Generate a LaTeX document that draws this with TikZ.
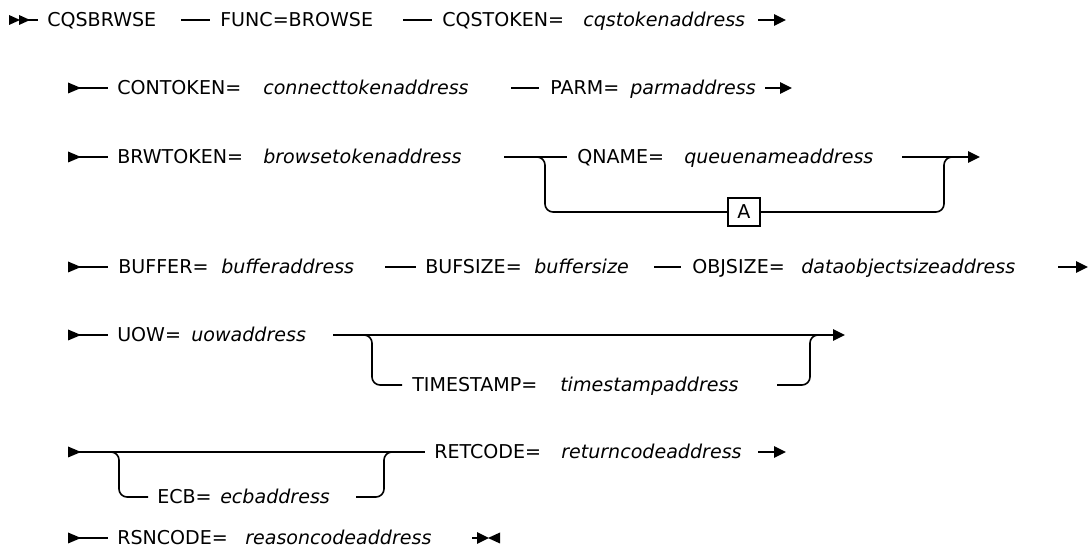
\documentclass[tikz,border=0pt]{standalone}
\usepackage{fontspec}
\setmainfont{DejaVu Sans}
\usetikzlibrary{arrows.meta}
\begin{document}
\begin{tikzpicture}[x=0.75pt,y=-0.75pt,
  kw/.style={anchor=base west,inner sep=0pt,font=\fontsize{14.3}{16}\selectfont},
  var/.style={anchor=base west,inner sep=0pt,font=\fontsize{14.3}{16}\selectfont\itshape},
  rail/.style={line width=1.2pt},
  branch/.style={line width=1.2pt,rounded corners=6pt},
  endarrow/.style={line width=1.2pt,-{Triangle[length=9pt,width=8.5pt]}},
  refbox/.style={draw,line width=1pt,minimum width=24pt,minimum height=21pt,inner sep=0pt,font=\fontsize{14.3}{16}\selectfont}
]
\useasboundingbox (0,0) rectangle (1089,548);
\newcommand\startmark[1]{\fill (#1) ++(0,-5.5) -- ++(13,5.5) -- ++(-13,5.5) -- cycle;}

% ---------- row 1 ----------
\fill (9,15) -- (20,20) -- (9,25) -- cycle;
\fill (19,15) -- (30,20) -- (19,25) -- cycle;
\coordinate (a1) at (19,20); \coordinate (a2) at (38,20);
\draw[rail] (a1) -- (a2);
\node[kw] (cqsbrwse) at (47,27) {CQSBRWSE};
\coordinate (b1) at (181,20); \coordinate (b2) at (210,20);
\draw[rail] (b1) -- (b2);
\node[kw] (func) at (220,27) {FUNC=BROWSE};
\coordinate (c1) at (403,20); \coordinate (c2) at (432,20);
\draw[rail] (c1) -- (c2);
\node[kw] (cqstoken) at (442,27) {CQSTOKEN=};
\node[var] (cqstokenv) at (583,27) {cqstokenaddress};
\coordinate (d1) at (758,20); \coordinate (d2) at (786,20);
\draw[endarrow] (d1) -- (d2);

% ---------- row 2 ----------
\coordinate (e1) at (68,88); \coordinate (e2) at (108,88);
\startmark{e1}
\draw[rail] (e1) -- (e2);
\node[kw] (contoken) at (117,95) {CONTOKEN=};
\node[var] (contokenv) at (263,95) {connecttokenaddress};
\coordinate (f1) at (511,88); \coordinate (f2) at (539,88);
\draw[rail] (f1) -- (f2);
\node[kw] (parm) at (550,95) {PARM=};
\node[var] (parmv) at (630,95) {parmaddress};
\coordinate (g1) at (765,88); \coordinate (g2) at (792,88);
\draw[endarrow] (g1) -- (g2);

% ---------- row 3 ----------
\coordinate (h1) at (68,157); \coordinate (h2) at (108,157);
\startmark{h1}
\draw[rail] (h1) -- (h2);
\node[kw] (brwtoken) at (117,164) {BRWTOKEN=};
\node[var] (brwtokenv) at (263,164) {browsetokenaddress};
\coordinate (i1) at (504,157); \coordinate (i2) at (567,157);
\draw[rail] (i1) -- (i2);
\node[kw] (qname) at (577,164) {QNAME=};
\node[var] (qnamev) at (684,164) {queuenameaddress};
\coordinate (j1) at (902,157); \coordinate (j2) at (980,157);
\draw[endarrow] (j1) -- (j2);
\node[refbox] (boxA) at (744,212) {A};
\coordinate (k1) at (533,157); \coordinate (k2) at (545,157); \coordinate (k3) at (545,212);
\draw[branch] (k1) -- (k2) -- (k3) -- (boxA.west);
\coordinate (l1) at (944,212); \coordinate (l2) at (944,157); \coordinate (l3) at (956,157);
\draw[branch] (boxA.east) -- (l1) -- (l2) -- (l3);

% ---------- row 4 ----------
\coordinate (m1) at (68,267); \coordinate (m2) at (108,267);
\startmark{m1}
\draw[rail] (m1) -- (m2);
\node[kw] (buffer) at (118,274) {BUFFER=};
\node[var] (bufferv) at (221,274) {bufferaddress};
\coordinate (n1) at (385,267); \coordinate (n2) at (416,267);
\draw[rail] (n1) -- (n2);
\node[kw] (bufsize) at (425,274) {BUFSIZE=};
\node[var] (bufsizev) at (534,274) {buffersize};
\coordinate (o1) at (654,267); \coordinate (o2) at (681,267);
\draw[rail] (o1) -- (o2);
\node[kw] (objsize) at (692,274) {OBJSIZE=};
\node[var] (objsizev) at (801,274) {dataobjectsizeaddress};
\coordinate (p1) at (1058,267); \coordinate (p2) at (1088,267);
\draw[endarrow] (p1) -- (p2);

% ---------- row 5 ----------
\coordinate (q1) at (68,335); \coordinate (q2) at (108,335);
\startmark{q1}
\draw[rail] (q1) -- (q2);
\node[kw] (uow) at (117,342) {UOW=};
\node[var] (uowv) at (191,342) {uowaddress};
\coordinate (r1) at (333,335); \coordinate (r2) at (845,335);
\draw[endarrow] (r1) -- (r2);
\node[kw] (timestamp) at (412,392) {TIMESTAMP=};
\node[var] (timestampv) at (560,392) {timestampaddress};
\coordinate (s1) at (360,335); \coordinate (s2) at (372,335); \coordinate (s3) at (372,385); \coordinate (s4) at (402,385);
\draw[branch] (s1) -- (s2) -- (s3) -- (s4);
\coordinate (t1) at (777,385); \coordinate (t2) at (810,385); \coordinate (t3) at (810,335); \coordinate (t4) at (822,335);
\draw[branch] (t1) -- (t2) -- (t3) -- (t4);

% ---------- row 6 ----------
\coordinate (u1) at (68,452); \coordinate (u2) at (425,452);
\startmark{u1}
\draw[rail] (u1) -- (u2);
\node[kw] (retcode) at (434,459) {RETCODE=};
\node[var] (retcodev) at (561,459) {returncodeaddress};
\coordinate (v1) at (758,452); \coordinate (v2) at (786,452);
\draw[endarrow] (v1) -- (v2);
\node[kw] (ecb) at (157,504) {ECB=};
\node[var] (ecbv) at (220,504) {ecbaddress};
\coordinate (w1) at (107,452); \coordinate (w2) at (119,452); \coordinate (w3) at (119,497); \coordinate (w4) at (148,497);
\draw[branch] (w1) -- (w2) -- (w3) -- (w4);
\coordinate (x1) at (356,497); \coordinate (x2) at (384,497); \coordinate (x3) at (384,452); \coordinate (x4) at (396,452);
\draw[branch] (x1) -- (x2) -- (x3) -- (x4);

% ---------- row 7 ----------
\coordinate (y1) at (68,538); \coordinate (y2) at (108,538);
\startmark{y1}
\draw[rail] (y1) -- (y2);
\node[kw] (rsncode) at (117,545) {RSNCODE=};
\node[var] (rsncodev) at (245,545) {reasoncodeaddress};
\coordinate (z1) at (472,538); \coordinate (z2) at (489,538);
\draw[endarrow] (z1) -- (z2);
\fill (488,538) -- (500,532.5) -- (500,543.5) -- cycle;
\end{tikzpicture}
\end{document}
